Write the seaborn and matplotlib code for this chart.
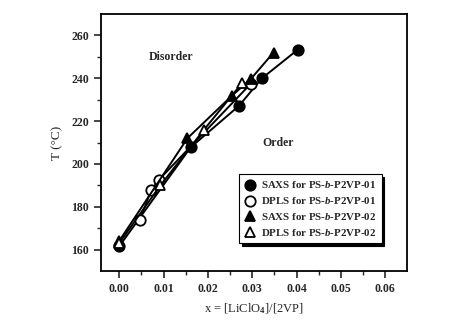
import matplotlib
matplotlib.use("Agg")
import matplotlib.pyplot as plt
import seaborn as sns
import pandas as pd

# data
saxs01_x = [0.000, 0.0161, 0.0270, 0.0322, 0.0403]
saxs01_t = [161.5, 207.7, 227.1, 240.0, 253.4]
dpls01_x = [0.0046, 0.0072, 0.0090, 0.0297]
dpls01_t = [173.6, 187.7, 192.7, 237.5]
saxs02_x = [0.000, 0.0154, 0.0254, 0.0297, 0.0348]
saxs02_t = [164.0, 212.0, 231.8, 239.7, 252.0]
dpls02_x = [0.000, 0.0093, 0.0191, 0.0278]
dpls02_t = [163.0, 190.0, 215.9, 238.0]

sns.set_style("ticks")
plt.rcParams['font.family'] = ['Liberation Serif', 'DejaVu Serif']
plt.rcParams['font.weight'] = 'bold'
plt.rcParams['mathtext.fontset'] = 'custom'
plt.rcParams['mathtext.rm'] = 'Liberation Serif:bold'
plt.rcParams['mathtext.it'] = 'Liberation Serif:italic:bold'
plt.rcParams['mathtext.bf'] = 'Liberation Serif:bold'

fig = plt.figure(figsize=(4.7, 3.23), dpi=100)
ax = fig.add_axes([101 / 470, 1 - 271 / 323, 306 / 470, 257 / 323])

series = [
    (saxs01_x, saxs01_t, 'o', 'black', r'SAXS for PS-$b$-P2VP-01'),
    (dpls01_x, dpls01_t, 'o', 'white', r'DPLS for PS-$b$-P2VP-01'),
    (saxs02_x, saxs02_t, '^', 'black', r'SAXS for PS-$b$-P2VP-02'),
    (dpls02_x, dpls02_t, '^', 'white', r'DPLS for PS-$b$-P2VP-02'),
]
for xs, ts, m, fc, lab in series:
    df = pd.DataFrame({'x': xs, 'T': ts})
    sns.lineplot(data=df, x='x', y='T', ax=ax, color='black', lw=1.4,
                 marker=m, markersize=7.5, markerfacecolor=fc,
                 markeredgecolor='black', markeredgewidth=1.3,
                 estimator=None, sort=False, label=lab)

ax.set_xlim(-0.0041, 0.0649)
ax.set_ylim(150, 270)
ax.set_xticks([0.00, 0.01, 0.02, 0.03, 0.04, 0.05, 0.06])
ax.set_xticks([0.005, 0.015, 0.025, 0.035, 0.045, 0.055], minor=True)
ax.set_yticks([160, 180, 200, 220, 240, 260])
ax.set_yticks([170, 190, 210, 230, 250], minor=True)
ax.set_xticklabels(['0.00', '0.01', '0.02', '0.03', '0.04', '0.05', '0.06'])
ax.tick_params(which='major', length=5, width=1.2, labelsize=8.5, direction='out')
ax.tick_params(which='minor', length=3, width=1.0, direction='out')
for s in ax.spines.values():
    s.set_visible(True)
    s.set_linewidth(1.3)
    s.set_color('black')

ax.set_xlabel(r'x = [LiClO$_4$]/[2VP]', fontsize=9, labelpad=5)
ax.set_ylabel('T (°C)', fontsize=9.5, fontweight='normal', labelpad=6)

ax.text(0.0117, 249.8, 'Disorder', fontsize=8.5, ha='center', va='center')
ax.text(0.0358, 210, 'Order', fontsize=8.5, ha='center', va='center')

leg = ax.legend(loc='lower right', bbox_to_anchor=(0.935, 0.086), fontsize=7.8,
                frameon=True, fancybox=False, edgecolor='black', framealpha=1,
                shadow={'color': 'black', 'alpha': 1}, handlelength=1.0,
                handletextpad=0.5, labelspacing=0.45, borderpad=0.5)
leg.get_frame().set_linewidth(0.8)
for h in leg.legend_handles:
    h.set_linestyle('none')

fig.savefig('out.png', dpi=100)
